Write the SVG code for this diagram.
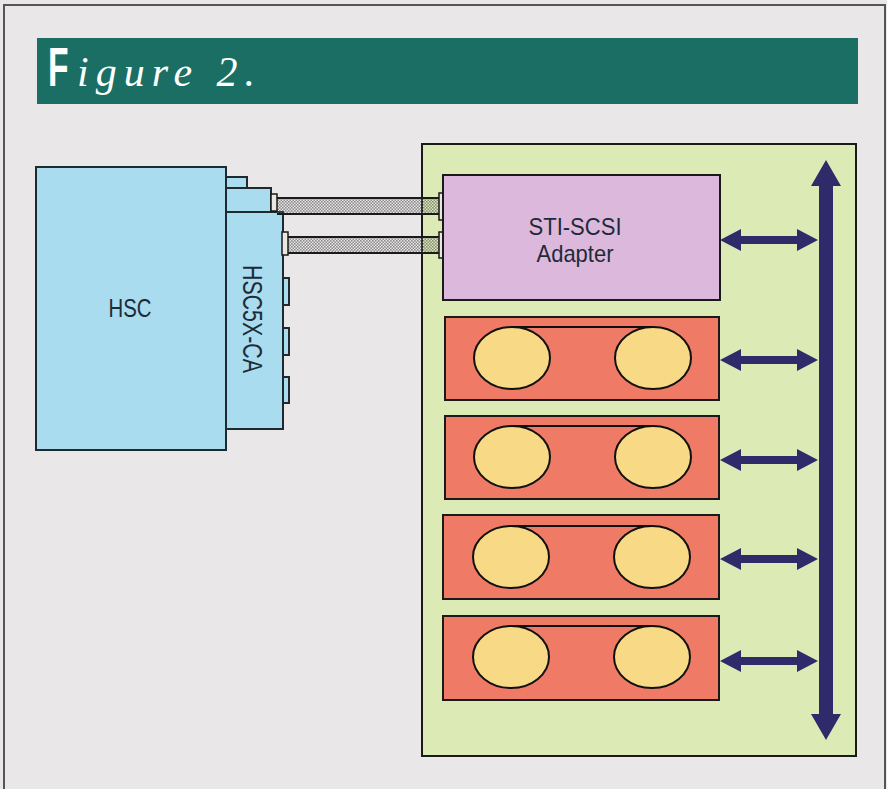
<svg xmlns="http://www.w3.org/2000/svg" width="887" height="789" viewBox="0 0 887 789">
<defs>
<style>
.lbl{font-family:"Liberation Sans",Arial,sans-serif;fill:#1f2a38}
.blue{fill:#a8dcee;stroke:#1f2a30;stroke-width:2}
.drive{fill:#ef7b66;stroke:#1a1a1a;stroke-width:2}
.disk{fill:#f8d986;stroke:#111;stroke-width:2}
.arrow{fill:#2f2b6b}
.cable{fill:url(#dots);stroke:none}
.cedge{stroke:#1a1a1a;stroke-width:2}
.plug{fill:#e9e7df;stroke:#1a1a1a;stroke-width:1.5}
</style>
<pattern id="dots" width="3" height="3" patternUnits="userSpaceOnUse">
<rect x="0" y="0" width="1.6" height="1.6" fill="#5a5a5a" fill-opacity="0.65"/>
<rect x="1.5" y="1.5" width="1.6" height="1.6" fill="#5a5a5a" fill-opacity="0.65"/>
</pattern>
</defs>
<rect x="0" y="0" width="887" height="789" fill="#e9e7e8"/>
<rect x="4" y="5" width="881" height="800" fill="none" stroke="#555" stroke-width="2"/>
<g id="title">
<rect x="37" y="38" width="821" height="66" fill="#1a6e63"/>
<text transform="translate(48,86) scale(0.6,1)" font-family="Liberation Sans,Arial,sans-serif" font-weight="bold" font-size="56" fill="#fff">F</text>
<text x="77" y="86" font-family="Liberation Serif,Times New Roman,serif" font-style="italic" font-size="42" fill="#fff" letter-spacing="7">igure 2.</text>
</g>
<g id="sti-box">
<rect x="422" y="144" width="434" height="612" fill="#dcebb5" stroke="#1a1a1a" stroke-width="2"/>
</g>
<g id="hsc5x-ca">
<rect class="blue" x="226" y="177" width="21" height="12"/>
<rect class="blue" x="226" y="188" width="45" height="25"/>
<rect class="blue" x="283" y="278" width="6" height="27"/>
<rect class="blue" x="283" y="328" width="6" height="27"/>
<rect class="blue" x="283" y="377" width="6" height="26"/>
<rect class="blue" x="226" y="212" width="57" height="217"/>
<text class="lbl" transform="translate(243,319) rotate(90)" text-anchor="middle" font-size="27" textLength="108" lengthAdjust="spacingAndGlyphs">HSC5X-CA</text>
</g>
<g id="hsc">
<rect class="blue" x="36" y="167" width="190" height="283"/>
<text class="lbl" x="130" y="317" text-anchor="middle" font-size="25" textLength="43" lengthAdjust="spacingAndGlyphs">HSC</text>
</g>
<g id="connectors">
<rect class="cable" x="277" y="198" width="162" height="16"/>
<line class="cedge" x1="277" y1="198" x2="439" y2="198"/>
<line class="cedge" x1="277" y1="214" x2="439" y2="214"/>
<rect class="plug" x="271" y="194" width="6" height="17"/>
<rect class="plug" x="439" y="193" width="5" height="27"/>
<rect class="cable" x="288" y="237" width="151" height="16"/>
<line class="cedge" x1="288" y1="237" x2="439" y2="237"/>
<line class="cedge" x1="288" y1="253" x2="439" y2="253"/>
<rect class="plug" x="282" y="232" width="6" height="23"/>
<rect class="plug" x="439" y="232" width="5" height="26"/>
<polygon class="arrow" points="826,160 841,186 833,186 833,714 841,714 826,740 811,714 819,714 819,186 811,186"/>
<polygon class="arrow" points="720,240 741,229 741,236 797,236 797,229 818,240 797,251 797,244 741,244 741,251"/>
<polygon class="arrow" points="720,360 741,349 741,356 797,356 797,349 818,360 797,371 797,364 741,364 741,371"/>
<polygon class="arrow" points="720,460 741,449 741,456 797,456 797,449 818,460 797,471 797,464 741,464 741,471"/>
<polygon class="arrow" points="720,559 741,548 741,555 797,555 797,548 818,559 797,570 797,563 741,563 741,570"/>
<polygon class="arrow" points="720,661 741,650 741,657 797,657 797,650 818,661 797,672 797,665 741,665 741,672"/>
</g>
<g id="adapter">
<rect x="443" y="175" width="277" height="125" fill="#dcb9dc" stroke="#1a1a1a" stroke-width="2"/>
<text class="lbl" x="575" y="235" text-anchor="middle" font-size="24" textLength="93" lengthAdjust="spacingAndGlyphs">STI-SCSI</text>
<text class="lbl" x="575" y="262" text-anchor="middle" font-size="24" textLength="77" lengthAdjust="spacingAndGlyphs">Adapter</text>
</g>
<g id="drive1">
<rect class="drive" x="445" y="317" width="274" height="83"/>
<line x1="512" y1="327" x2="653" y2="327" stroke="#111" stroke-width="2"/>
<ellipse class="disk" cx="512" cy="358" rx="38" ry="31"/>
<ellipse class="disk" cx="653" cy="358" rx="38" ry="31"/>
</g>
<g id="drive2">
<rect class="drive" x="445" y="416" width="274" height="83"/>
<line x1="512" y1="426" x2="653" y2="426" stroke="#111" stroke-width="2"/>
<ellipse class="disk" cx="512" cy="457" rx="38" ry="31"/>
<ellipse class="disk" cx="653" cy="457" rx="38" ry="31"/>
</g>
<g id="drive3">
<rect class="drive" x="443" y="515" width="276" height="84"/>
<line x1="511" y1="526" x2="652" y2="526" stroke="#111" stroke-width="2"/>
<ellipse class="disk" cx="511" cy="557" rx="38" ry="31"/>
<ellipse class="disk" cx="652" cy="557" rx="38" ry="31"/>
</g>
<g id="drive4">
<rect class="drive" x="443" y="616" width="276" height="84"/>
<line x1="511" y1="626" x2="652" y2="626" stroke="#111" stroke-width="2"/>
<ellipse class="disk" cx="511" cy="657" rx="38" ry="31"/>
<ellipse class="disk" cx="652" cy="657" rx="38" ry="31"/>
</g>
</svg>
